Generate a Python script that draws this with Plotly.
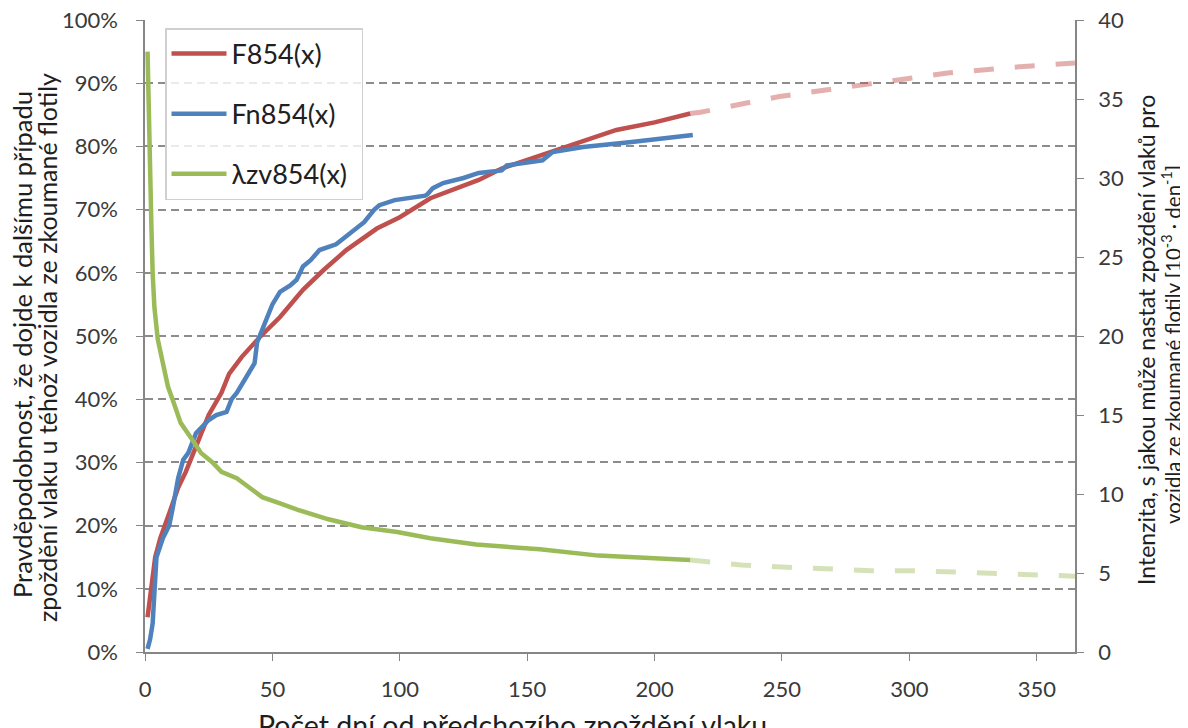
import plotly.graph_objects as go

# ---- data ----
f_x = [1, 2, 3, 4, 6, 8, 10, 13, 16, 20, 25, 30, 33, 38, 45, 53, 62, 70, 79, 91, 100, 112, 120, 131, 140, 159, 170, 185, 200, 214]
f_y = [5.5, 9, 12.5, 15, 18, 20.5, 22.5, 26, 28.5, 32.5, 37.5, 41, 44, 46.7, 49.8, 53, 57.3, 60.4, 63.6, 67, 68.8, 71.8, 73, 74.7, 76.5, 79.1, 80.7, 82.6, 83.8, 85.2]

f_ext_x = [214, 218, 249, 282, 315, 340, 365]
f_ext_y = [85.2, 85.4, 87.9, 89.7, 91.6, 92.5, 93.2]

fn_x = [1, 2, 3, 4, 4.5, 7, 9.5, 11, 13, 15, 17, 20, 25, 28, 32, 34, 36, 39, 43, 44, 47, 50, 53, 57, 59.5, 62, 65, 68.5, 75, 80, 86, 90, 92, 98, 110, 111, 113, 117, 125, 131, 140, 142, 150, 156, 160, 172, 191, 215]
fn_y = [0.5, 2, 4.5, 10, 15, 18, 20, 23, 27.5, 30.4, 31.5, 34.6, 36.7, 37.5, 38, 40, 41, 43, 45.7, 49, 52, 55, 57, 58, 58.9, 61, 62, 63.6, 64.5, 66, 68, 70, 70.7, 71.5, 72.2, 72.5, 73.4, 74.2, 75, 75.8, 76.2, 77, 77.5, 77.8, 79.1, 79.9, 80.7, 81.8]

lam_x = [1, 1.5, 2, 2.5, 3, 3.7, 5, 7, 9, 11, 14, 18.7, 22, 26.5, 30, 36, 40, 46, 53, 60, 72, 85, 99, 112, 130, 155, 178, 214]
lam_y = [38, 33, 30, 27, 24, 21.8, 19.8, 18.2, 16.8, 15.9, 14.5, 13.4, 12.6, 12, 11.4, 11, 10.5, 9.8, 9.4, 9.0, 8.4, 7.9, 7.6, 7.2, 6.8, 6.5, 6.1, 5.82]

lam_ext_x = [214, 234, 252, 285, 301, 333, 365]
lam_ext_y = [5.82, 5.5, 5.36, 5.15, 5.15, 4.94, 4.8]

x_ticks = [0, 50, 100, 150, 200, 250, 300, 350]
left_ticks = [0, 10, 20, 30, 40, 50, 60, 70, 80, 90, 100]
right_ticks = [0, 5, 10, 15, 20, 25, 30, 35, 40]

RED = "#C0504D"
BLUE = "#4F81BD"
GREEN = "#9BBB59"
FONT = "Lato"
TXT = "#3a3a3a"
TITLE = "#1e1e1e"
GRID = "#8c8c8c"
AX = "#868686"

# page body has an 8px margin: the figure is made 8px smaller and margins shifted to compensate
W, H = 1180, 720
PL, PT, PW, PH = 137, 12, 930, 632


def px(xp):
    return (xp - 145) / PW


def py(yp):
    return (652 - yp) / PH


fig = go.Figure()

fig.add_trace(go.Scatter(x=f_ext_x, y=f_ext_y, mode="lines", showlegend=False,
                         line=dict(color="rgba(192,80,77,0.45)", width=5, dash="20px,21px"),
                         hoverinfo="skip"))
fig.add_trace(go.Scatter(x=lam_ext_x, y=lam_ext_y, yaxis="y2", mode="lines", showlegend=False,
                         line=dict(color="rgba(155,187,89,0.42)", width=5, dash="20px,21px"),
                         hoverinfo="skip"))

fig.add_trace(go.Scatter(x=f_x, y=f_y, mode="lines", name="F854(x)\u00a0\u00a0\u00a0\u00a0\u00a0", legendgroup="a",
                         line=dict(color=RED, width=4.5)))
fig.add_trace(go.Scatter(x=fn_x, y=fn_y, mode="lines", name="Fn854(x)", legendgroup="b",
                         line=dict(color=BLUE, width=4.5)))
fig.add_trace(go.Scatter(x=lam_x, y=lam_y, yaxis="y2", mode="lines", name="λzv854(x)\u00a0", legendgroup="c",
                         line=dict(color=GREEN, width=4.5)))

annotations = [
    dict(text="Pravděpodobnost, že dojde k dalšímu případu", xref="paper", yref="paper",
         x=px(22), y=py(345), textangle=-90, showarrow=False,
         xanchor="center", yanchor="middle", font=dict(size=25.5, color=TITLE, family=FONT)),
    dict(text="zpoždění vlaku u téhož vozidla ze zkoumané flotily", xref="paper", yref="paper",
         x=px(47), y=py(348), textangle=-90, showarrow=False,
         xanchor="center", yanchor="middle", font=dict(size=25, color=TITLE, family=FONT)),
    dict(text="Intenzita, s jakou může nastat zpoždění vlaků pro", xref="paper", yref="paper",
         x=px(1146), y=py(340), textangle=-90, showarrow=False,
         xanchor="center", yanchor="middle", font=dict(size=23, color=TITLE, family=FONT)),
    dict(text="vozidla ze zkoumané flotily [10<sup>-3</sup> · den<sup>-1</sup>]", xref="paper", yref="paper",
         x=px(1171), y=py(345), textangle=-90, showarrow=False,
         xanchor="center", yanchor="middle", font=dict(size=20.5, color=TITLE, family=FONT)),
    dict(text="Počet dní od předchozího zpoždění vlaku", xref="paper", yref="paper",
         x=px(512), y=py(706), showarrow=False,
         xanchor="center", yanchor="top", font=dict(size=28.5, color=TITLE, family=FONT)),
]

fig.update_layout(
    width=W, height=H,
    margin=dict(l=PL, r=W - PL - PW, t=PT, b=H - PT - PH, autoexpand=False),
    paper_bgcolor="white", plot_bgcolor="white",
    font=dict(family=FONT, color=TXT, size=22),
    showlegend=True,
    legend=dict(x=px(165), y=py(28), xanchor="left", yanchor="top",
                bgcolor="rgba(255,255,255,0.82)", bordercolor="#d0d0d0", borderwidth=1.5,
                font=dict(family=FONT, size=27, color="#202020"),
                tracegroupgap=22, itemwidth=55, traceorder="grouped"),
    annotations=annotations,
    xaxis=dict(range=[0, 365], tickvals=x_ticks, showgrid=False, zeroline=False, automargin=False,
               showline=True, linecolor=AX, linewidth=1.5, ticks="outside", ticklen=7,
               tickcolor=AX, tickfont=dict(size=22, color=TXT), ticklabelstandoff=10,
               ticklabeloverflow="allow"),
    yaxis=dict(range=[0, 100], tickvals=left_ticks, ticktext=[f"{v}%" for v in left_ticks],
               showgrid=True, gridcolor=GRID, griddash="8px,5px", gridwidth=1.5, zeroline=False,
               automargin=False, ticklabeloverflow="allow",
               showline=True, linecolor=AX, linewidth=1.5, ticks="outside", ticklen=7,
               tickcolor=AX, tickfont=dict(size=22, color=TXT), ticklabelstandoff=14),
    yaxis2=dict(range=[0, 40], tickvals=right_ticks, overlaying="y", side="right",
                showgrid=False, zeroline=False, showline=True, linecolor=AX, linewidth=1.5,
                automargin=False, ticklabeloverflow="allow",
                ticks="outside", ticklen=7, tickcolor=AX, tickfont=dict(size=22, color=TXT),
                ticklabelstandoff=10),
)

fig.write_html("out.html")
